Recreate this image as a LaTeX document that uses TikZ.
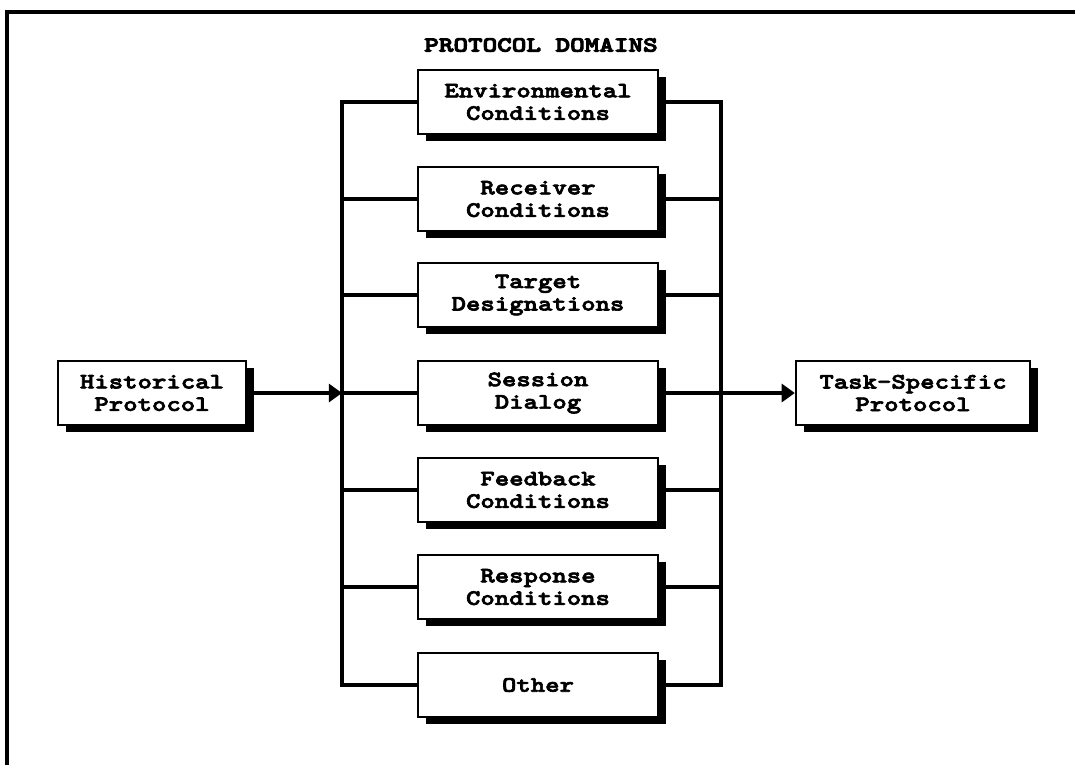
\documentclass[tikz,border=0pt]{standalone}
\usepackage{fontspec}
\newfontfamily\boxfont{lmmonolt10-bold.otf}[FakeStretch=1.25,FakeBold=3]
\newfontfamily\headfont{lmmonolt10-bold.otf}[FakeStretch=1.3,FakeBold=4.5]
\usetikzlibrary{arrows.meta,shadows}

\begin{document}
\begin{tikzpicture}[x=0.025cm,y=-0.025cm,
    box/.style={draw,line width=1.6pt,fill=white,align=center,
      minimum width=6cm,minimum height=1.6cm,
      font=\boxfont\fontsize{15.6}{16}\selectfont,
      drop shadow={shadow xshift=0.2cm,shadow yshift=-0.18cm,fill=black,opacity=1}},
    bus/.style={line width=3.5pt},
    feed/.style={bus,-{Triangle[length=0.33cm,width=0.45cm]}}]
  \useasboundingbox (0,0) rectangle (1075,765);
  \draw[line width=2.2pt] (1075,12) -- (7,12) -- (7,765);
  \draw
    (541,45) node[font=\headfont\fontsize{15.2}{16}\selectfont] (title){PROTOCOL DOMAINS}
    (152,393) node[box,minimum width=4.7cm] (hist){Historical\\Protocol}
    (538,102) node[box] (env){Environmental\\Conditions}
    (538,199) node[box] (rec){Receiver\\Conditions}
    (538,295) node[box] (tgt){Target\\Designations}
    (538,393) node[box] (sess){Session\\Dialog}
    (538,490) node[box] (fb){Feedback\\Conditions}
    (538,587) node[box] (resp){Response\\Conditions}
    (538,685) node[box] (oth){Other}
    (913,393) node[box,minimum width=5.85cm] (task){Task-Specific\\Protocol};
  \coordinate (lb) at (342,685);
  \coordinate (rb) at (721,685);
  \begin{scope}[bus]
    \draw (env.west) -| (lb) |- (oth.west);
    \draw (env.east) -| (rb) |- (oth.east);
    \draw (lb |- rec.west) -- (rec.west);
    \draw (lb |- tgt.west) -- (tgt.west);
    \draw (lb |- sess.west) -- (sess.west);
    \draw (lb |- fb.west) -- (fb.west);
    \draw (lb |- resp.west) -- (resp.west);
    \draw (rec.east) -- (rb |- rec.east);
    \draw (tgt.east) -- (rb |- tgt.east);
    \draw (fb.east) -- (rb |- fb.east);
    \draw (resp.east) -- (rb |- resp.east);
    \draw[feed] (hist.east) -- (lb |- hist.east);
    \draw[feed] (sess.east) -- (task.west);
  \end{scope}
\end{tikzpicture}
\end{document}
